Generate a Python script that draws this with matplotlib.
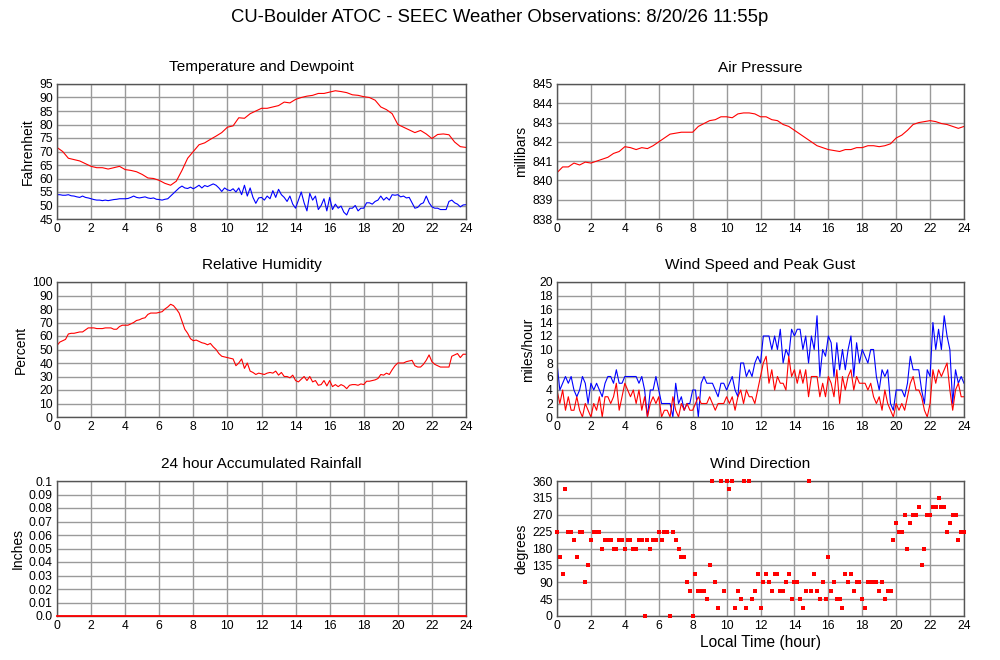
import numpy as np
import matplotlib
matplotlib.use("Agg")
import matplotlib.pyplot as plt

plt.rcParams['font.family'] = ['Liberation Sans', 'DejaVu Sans']

# ---------------- data ----------------
# Temperature (F), every 20 minutes, 0..24 h
temperature = [71.5, 70, 67.5, 67, 66.5, 65.5, 64.5, 64, 64, 63.5, 64, 64.5, 63.3,
               63, 62.5, 61.5, 60.2, 60, 59.3, 58.2, 57.5, 59, 63, 67.5, 70,
               72.5, 73.2, 74.5, 75.7, 77, 79, 79.5, 82.5, 82.3, 84, 85, 86,
               86, 86.5, 87, 88.3, 88, 89.3, 90, 90.5, 90.8, 91.5, 91.5, 92,
               92.5, 92.2, 91.8, 91, 90.8, 90.3, 90, 89, 86.5, 85.5, 84, 80,
               79, 78, 77, 77.8, 76.5, 74.8, 76.3, 76.5, 76.2, 73.5, 71.8, 71.5]

# Dewpoint (F), every 10 minutes
dewpoint = [54, 54, 53.8, 53.8, 54, 53.6,
            53.5, 53.2, 53, 53.5, 53, 52.8,
            52.5, 52.2, 52, 52, 51.8, 52,
            51.8, 52, 52.2, 52.3, 52.5, 52.5,
            52.5, 52.6, 53, 53.5, 53, 52.8,
            53, 53.2, 52.8, 52.6, 52.8, 52.3,
            52.2, 52, 52.3, 52.5, 53.5, 54.5,
            55.5, 56.5, 57.2, 56.5, 56.3, 56.8,
            56.2, 56.8, 57.5, 56.5, 57.4, 57,
            57.5, 58, 57.5, 56.5, 55.2, 56.5,
            55.8, 55.5, 56.2, 55, 56.5, 54,
            57.5, 53.5, 56.5, 53, 50.8, 52.8,
            53, 52, 53.5, 52.5, 55.5, 53,
            56, 54, 53, 51.5, 53.5, 50.5,
            49, 52, 55, 51, 48, 54.5,
            52, 53.5, 48.5, 50, 52.5, 48,
            53, 48.5, 50.5, 49, 49.8, 47.5,
            46.5, 49, 49, 50, 48, 49,
            49, 51, 51, 50.5, 51.5, 52,
            53.5, 52, 53, 52, 54, 53.8,
            54, 53.2, 53.5, 52.8, 53, 51,
            49, 49.3, 50.5, 51, 53.5, 51,
            49.5, 49, 49, 48.5, 48.5, 48.5,
            51.5, 52, 51, 50.5, 49.5, 50.2,
            50.3]

# Air pressure (mb), every 20 minutes
pressure = [840.4, 840.7, 840.7, 840.9, 840.8, 840.95, 840.9, 841.0, 841.1, 841.2,
            841.4, 841.5, 841.75, 841.7, 841.6, 841.7, 841.65, 841.8, 842.0, 842.2,
            842.4, 842.45, 842.5, 842.5, 842.5, 842.8, 842.95, 843.1, 843.15, 843.3,
            843.3, 843.25, 843.45, 843.5, 843.5, 843.45, 843.3, 843.3, 843.15, 843.1,
            842.9, 842.8, 842.6, 842.4, 842.2, 842.0, 841.8, 841.7, 841.6, 841.55,
            841.5, 841.6, 841.6, 841.7, 841.7, 841.8, 841.8, 841.75, 841.8, 841.9,
            842.2, 842.35, 842.6, 842.9, 843.0, 843.05, 843.1, 843.05, 842.95, 842.9,
            842.8, 842.7, 842.8]

# Relative humidity (%), every 10 minutes
humidity = [53, 55.5, 56.5, 57.5, 61.5, 62,
            62, 62.5, 63, 63, 64.5, 66,
            66, 66, 65.5, 65.5, 65.5, 66,
            66, 66, 65, 65, 67, 68,
            68, 68, 69, 70, 71.5, 72,
            73, 73.5, 76, 77, 77, 77,
            77.5, 78, 80, 81.5, 83.5, 82.5,
            80, 77, 71, 65, 62, 58,
            56.5, 57, 56, 55, 54.5, 53.5,
            54.5, 52, 50, 47, 45, 44.5,
            44, 43.5, 43, 38, 40, 43,
            36, 40, 34, 33, 31.5, 32.5,
            32, 31.5, 32.5, 33, 32.5, 34,
            31, 33, 30, 30, 29, 31,
            27, 26, 28, 30, 27, 30,
            26, 27, 23.5, 24, 27, 23,
            27, 22.5, 24, 22.5, 24, 23,
            21, 23.5, 24, 24, 23.5, 24.5,
            24, 26.5, 26.5, 27, 27.5, 28.5,
            31.5, 31, 32.5, 31.5, 35, 38,
            40, 40, 40, 41, 41.5, 42,
            38, 37, 37, 39, 42, 46,
            41, 39, 38, 37, 37, 37,
            37, 45, 46, 47, 44, 46.5,
            46.5]

# Wind speed and peak gust (mph), every 10 minutes
wind_speed = [4, 2, 4, 1, 3, 1,
              1, 3, 1, 0, 2, 1,
              0, 2, 1, 3, 0, 3,
              3, 2, 3, 5, 1, 3,
              5, 4, 3, 4, 2, 4,
              1, 3, 0, 2, 3, 2,
              3, 0, 1, 1, 0, 3,
              1, 0, 2, 1, 2, 1,
              1, 2, 3, 2, 2, 2,
              3, 2, 1, 2, 2, 2,
              3, 2, 3, 1, 3, 4,
              2, 4, 3, 3, 2, 4,
              6, 8, 9, 5, 7, 4,
              6, 5, 5, 4, 9, 6,
              7, 5, 7, 5, 7, 3,
              6, 6, 6, 3, 5, 3,
              6, 5, 3, 7, 2, 6,
              4, 6, 7, 4, 6, 5,
              5, 5, 4, 5, 3, 2,
              3, 1, 4, 2, 1, 0,
              2, 1, 2, 1, 3, 5,
              6, 4, 4, 3, 1, 0,
              2, 7, 5, 7, 6, 7,
              8, 4, 1, 4, 5, 3,
              3]
wind_gust = [8, 4, 5, 6, 5, 6,
             4, 3, 4, 6, 5, 2,
             5, 4, 5, 4, 3, 5,
             6, 6, 5, 7, 5, 5,
             6, 6, 6, 6, 6, 5,
             6, 4, 0, 4, 4, 6,
             4, 2, 2, 2, 2, 0,
             5, 2, 3, 1, 2, 2,
             4, 4, 0, 5, 6, 5,
             5, 5, 4, 3, 5, 5,
             4, 5, 6, 4, 3, 8,
             8, 6, 7, 6, 8, 9,
             8, 12, 12, 12, 10, 12,
             10, 13, 8, 10, 9, 13,
             12, 13, 13, 10, 12, 8,
             12, 10, 15, 6, 10, 9,
             12, 11, 6, 11, 7, 10,
             7, 10, 12, 6, 11, 8,
             10, 9, 8, 10, 10, 6,
             4, 7, 6, 7, 2, 1,
             4, 4, 4, 3, 5, 9,
             7, 7, 7, 4, 2, 7,
             6, 14, 10, 13, 10, 15,
             12, 10, 2, 7, 5, 6,
             5]

# Wind direction (degrees), every 10 minutes
wind_dir = [225, 158, 112, 338, 225, 225,
            202, 158, 225, 225, 90, 135,
            202, 225, 225, 225, 180, 202,
            202, 202, 180, 180, 202, 202,
            180, 202, 202, 180, 180, 202,
            202, 0, 202, 180, 202, 202,
            225, 202, 225, 225, 0, 225,
            202, 180, 158, 158, 90, 68,
            0, 112, 68, 68, 68, 45,
            135, 360, 90, 22, 360, 68,
            360, 338, 360, 22, 68, 45,
            360, 22, 360, 45, 68, 112,
            22, 90, 112, 90, 68, 112,
            112, 68, 68, 90, 112, 45,
            90, 90, 45, 22, 68, 360,
            68, 112, 68, 45, 90, 45,
            158, 68, 90, 45, 45, 22,
            112, 90, 112, 68, 90, 90,
            45, 22, 90, 90, 90, 90,
            68, 90, 45, 68, 68, 202,
            248, 225, 225, 270, 180, 248,
            270, 270, 292, 135, 180, 270,
            270, 292, 292, 315, 292, 292,
            225, 248, 270, 270, 202, 225,
            225]

# 24 hour accumulated rainfall (inches)
rain_hours = [0, 24]
rainfall = [0.0, 0.0]

hour_ticks = list(range(0, 25, 2))

# ---------------- figure ----------------
fig = plt.figure(figsize=(10, 6.6), dpi=100)
fig.patch.set_facecolor('white')

W, H = 1000.0, 660.0
def ax_at(x0, y0, x1, y1):
    return fig.add_axes([x0 / W, 1 - y1 / H, (x1 - x0) / W, (y1 - y0) / H])

def style(ax, title, ylabel, yticks, ylabels=None):
    ax.set_xlim(0, 24)
    ax.set_ylim(yticks[0], yticks[-1])
    ax.set_xticks(hour_ticks)
    ax.set_yticks(yticks)
    if ylabels is not None:
        ax.set_yticklabels(ylabels)
    ax.grid(True, color='#9a9a9a', linewidth=1.0)
    ax.set_axisbelow(True)
    for s in ax.spines.values():
        s.set_color('#555555')
        s.set_linewidth(1.0)
    ax.tick_params(length=0, labelsize=8.7, pad=3, colors='black')
    ax.set_title(title, fontsize=11.1, pad=9)
    ax.set_ylabel(ylabel, fontsize=10.0, labelpad=3)

lw = 0.8

def t(n):
    return np.linspace(0, 24, n)

# Temperature and dewpoint
ax1 = ax_at(57, 84, 466, 219)
ax1.plot(t(len(temperature)), temperature, color='#ff0000', lw=lw)
ax1.plot(t(len(dewpoint)), dewpoint, color='#0000ff', lw=lw)
style(ax1, 'Temperature and Dewpoint', 'Fahrenheit', list(range(45, 96, 5)))

# Air pressure
ax2 = ax_at(557, 84, 964, 219)
ax2.plot(t(len(pressure)), pressure, color='#ff0000', lw=lw)
style(ax2, 'Air Pressure', 'millibars', list(range(838, 846)))

# Relative humidity
ax3 = ax_at(57, 282, 466, 417)
ax3.plot(t(len(humidity)), humidity, color='#ff0000', lw=lw)
style(ax3, 'Relative Humidity', 'Percent', list(range(0, 101, 10)))

# Wind speed and gust
ax4 = ax_at(557, 282, 964, 417)
ax4.plot(t(len(wind_gust)), wind_gust, color='#0000ff', lw=lw)
ax4.plot(t(len(wind_speed)), wind_speed, color='#ff0000', lw=lw)
style(ax4, 'Wind Speed and Peak Gust', 'miles/hour', list(range(0, 21, 2)))

# Rainfall
ax5 = ax_at(57, 481, 466, 616)
ax5.plot(rain_hours, rainfall, color='#ff0000', lw=1.3, clip_on=False, zorder=5)
rticks = [i / 100 for i in range(0, 11)]
rlabels = ['0.0'] + ['%.2f' % v for v in rticks[1:-1]] + ['0.1']
style(ax5, '24 hour Accumulated Rainfall', 'Inches', rticks, rlabels)

# Wind direction
ax6 = ax_at(557, 481, 964, 616)
ax6.plot(t(len(wind_dir)), wind_dir, linestyle='none', marker='s', markersize=2.4,
         markeredgewidth=0, color='#ff0000', clip_on=False, zorder=5)
style(ax6, 'Wind Direction', 'degrees', list(range(0, 361, 45)))
ax6.set_xlabel('Local Time (hour)', fontsize=11.2, labelpad=2)

fig.suptitle('CU-Boulder ATOC - SEEC Weather Observations: 8/20/26 11:55p',
             fontsize=13.3, y=1 - 18 / H, va='center')

fig.savefig('out.png', dpi=100, facecolor='white')
